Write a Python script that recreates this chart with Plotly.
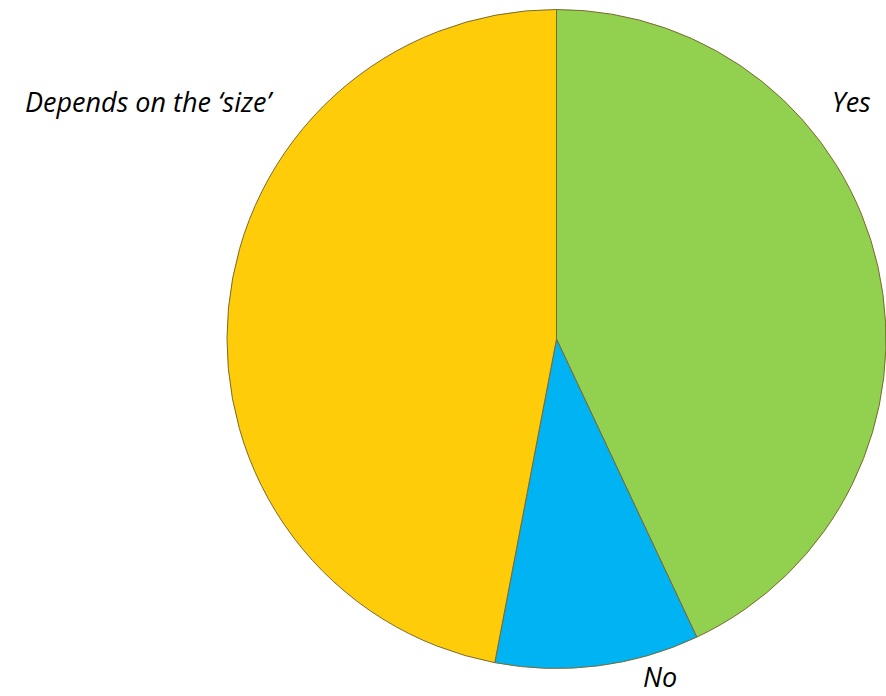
import plotly.graph_objects as go

labels = ["Yes", "No", "Depends on the \u2018size\u2019"]
values = [43, 10, 47]
colors = ["#92D050", "#00B4F4", "#FFCC0A"]

W, H = 886, 696
cx, cy, r = 558, 339, 331

fig = go.Figure(go.Pie(
    labels=labels,
    values=values,
    sort=False,
    direction="clockwise",
    rotation=0,
    marker=dict(colors=colors, line=dict(color="#7A6A30", width=1)),
    textinfo="none",
    hoverinfo="label+percent",
    showlegend=False,
    domain=dict(x=[(cx - r) / W, min(1.0, (cx + r) / W)],
                y=[(H - cy - r) / H, (H - cy + r) / H]),
))

label_pos = {
    labels[0]: (851, 101),
    labels[1]: (660, 0),
    labels[2]: (149, 101),
}
for lab in labels:
    x, y = label_pos[lab]
    bottom = lab == labels[1]
    fig.add_annotation(
        x=x / W, y=0 if bottom else 1 - y / H, xref="paper", yref="paper",
        text=f"<i>{lab}</i>", showarrow=False,
        font=dict(family="Open Sans, sans-serif", size=27, color="#000000"),
        xanchor="center", yanchor="bottom" if bottom else "middle",
        borderpad=0,
    )

fig.update_layout(
    width=W, height=H,
    margin=dict(l=0, r=0, t=0, b=0),
    paper_bgcolor="white", plot_bgcolor="white",
)
fig.write_html(
    "out.html",
    config={"displayModeBar": False},
    post_script="document.body.style.margin='0px';document.body.style.overflow='hidden';",
)
